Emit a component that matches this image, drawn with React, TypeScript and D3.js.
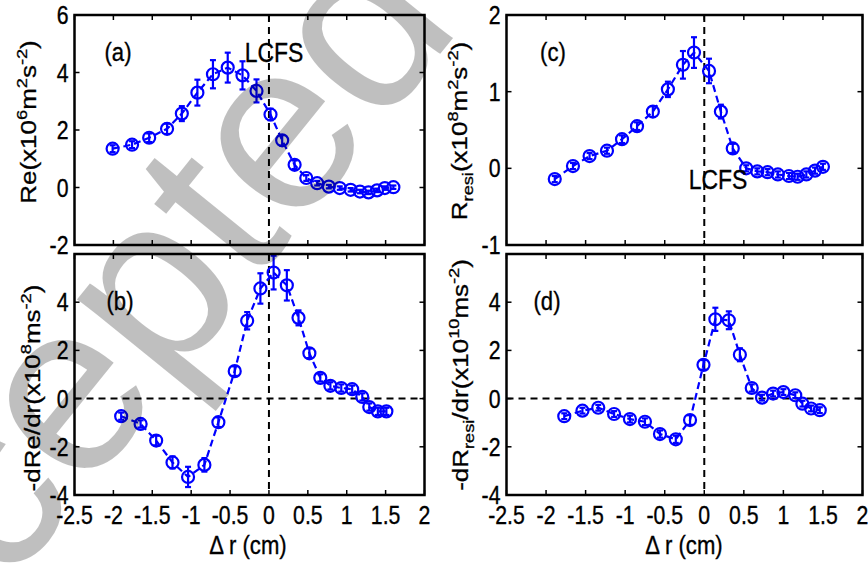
import React from "react";
import * as d3 from "d3";

// ---------- data ----------
const reX = [-2.01, -1.76, -1.54, -1.31, -1.12, -0.92, -0.72, -0.53, -0.34, -0.16, 0.02, 0.17, 0.33, 0.48, 0.62, 0.77, 0.91, 1.05, 1.17, 1.28, 1.39, 1.49, 1.6];
const reY = [1.35, 1.49, 1.73, 2.04, 2.57, 3.3, 3.94, 4.17, 3.9, 3.36, 2.54, 1.64, 0.79, 0.33, 0.15, 0.03, -0.02, -0.08, -0.14, -0.17, -0.1, -0.02, 0.01];
const reErr = [0.12, 0.12, 0.15, 0.18, 0.26, 0.45, 0.49, 0.52, 0.49, 0.4, 0.2, 0.18, 0.15, 0.1, 0.08, 0.06, 0.06, 0.06, 0.06, 0.06, 0.06, 0.06, 0.06];

const dReX = [-1.9, -1.65, -1.45, -1.24, -1.04, -0.83, -0.65, -0.44, -0.28, -0.11, 0.06, 0.23, 0.38, 0.52, 0.66, 0.79, 0.93, 1.07, 1.2, 1.29, 1.4, 1.51];
const dReY = [-0.73, -1.05, -1.74, -2.65, -3.25, -2.75, -0.98, 1.14, 3.23, 4.57, 5.23, 4.7, 3.35, 1.88, 0.86, 0.53, 0.44, 0.39, 0.07, -0.35, -0.53, -0.53];
const dReErr = [0.15, 0.15, 0.2, 0.25, 0.42, 0.28, 0.2, 0.2, 0.36, 0.63, 0.7, 0.63, 0.31, 0.2, 0.15, 0.15, 0.15, 0.15, 0.15, 0.15, 0.15, 0.15];

const rresiX = [-1.89, -1.66, -1.45, -1.23, -1.04, -0.85, -0.65, -0.46, -0.27, -0.13, 0.06, 0.21, 0.36, 0.53, 0.67, 0.8, 0.93, 1.07, 1.18, 1.29, 1.4, 1.5];
const rresiY = [-0.14, 0.03, 0.16, 0.23, 0.38, 0.55, 0.74, 1.03, 1.35, 1.51, 1.27, 0.74, 0.26, 0.0, -0.04, -0.05, -0.08, -0.1, -0.11, -0.08, -0.03, 0.02];
const rresiErr = [0.04, 0.04, 0.04, 0.04, 0.05, 0.05, 0.07, 0.1, 0.18, 0.2, 0.16, 0.09, 0.06, 0.04, 0.04, 0.04, 0.04, 0.04, 0.04, 0.04, 0.04, 0.04];

const dRresiX = [-1.77, -1.54, -1.34, -1.14, -0.94, -0.75, -0.56, -0.36, -0.18, -0.01, 0.14, 0.31, 0.45, 0.6, 0.73, 0.87, 1.0, 1.15, 1.24, 1.35, 1.46];
const dRresiY = [-0.73, -0.5, -0.38, -0.64, -0.85, -0.96, -1.47, -1.69, -0.89, 1.4, 3.29, 3.25, 1.82, 0.44, 0.04, 0.21, 0.27, 0.14, -0.21, -0.41, -0.48];
const dRresiErr = [0.12, 0.12, 0.12, 0.12, 0.14, 0.14, 0.15, 0.15, 0.2, 0.2, 0.48, 0.37, 0.27, 0.15, 0.12, 0.12, 0.12, 0.12, 0.12, 0.12, 0.12];

const xTicks = [-2.5, -2, -1.5, -1, -0.5, 0, 0.5, 1, 1.5, 2];
const xTickLabels = ["-2.5", "-2", "-1.5", "-1", "-0.5", "0", "0.5", "1", "1.5", "2"];
const yTicksA = [-2, 0, 2, 4, 6];
const yTicksB = [-4, -2, 0, 2, 4, 6];
const yLabelsB = ["-4", "-2", "0", "2", "4", ""];
const yTicksC = [-1, 0, 1, 2];

// ---------- layout ----------
const W = 868;
const H = 563;
const SX = 0.85;
const FONT = "'Liberation Sans', Arial, sans-serif";
const BLUE = "#0000ff";
const TS = 0.35; // faux-bold stroke for text

type Seg = { t: string; sup?: boolean; sub?: boolean };

function Rich({ segs, F }: { segs: Seg[]; F: number }) {
  let cur = 0;
  return (
    <>
      {segs.map((s, i) => {
        const target = s.sup ? -0.42 * F : s.sub ? 0.28 * F : 0;
        const dy = target - cur;
        cur = target;
        return (
          <tspan key={i} dy={dy} fontSize={s.sup || s.sub ? 0.7 * F : F}>
            {s.t}
          </tspan>
        );
      })}
    </>
  );
}

type PanelProps = {
  x0: number; x1: number; y0: number; y1: number;
  yDomain: [number, number];
  yTicks: number[];
  yLabels: string[];
  showX: boolean;
  hZero: boolean;
  xs: number[]; ys: number[]; errs: number[];
};

function Panel(p: PanelProps) {
  const x = d3.scaleLinear().domain([-2.5, 2]).range([p.x0, p.x1]);
  const y = d3.scaleLinear().domain(p.yDomain).range([p.y1, p.y0]);
  const pts = p.xs.map((v, i) => [v, p.ys[i]] as [number, number]);
  const line = d3.line<[number, number]>().x((d) => x(d[0])).y((d) => y(d[1]));
  const TL = 5;
  return (
    <g>
      <line x1={x(0)} x2={x(0)} y1={p.y0} y2={p.y1} stroke="#000" strokeWidth={2} strokeDasharray="7,5" />
      {p.hZero && (
        <line x1={p.x0} x2={p.x1} y1={y(0)} y2={y(0)} stroke="#000" strokeWidth={2} strokeDasharray="7,5" />
      )}
      <path d={line(pts) || ""} fill="none" stroke={BLUE} strokeWidth={2.2} strokeDasharray="7,4" />
      {pts.map((d, i) => {
        const cx = x(d[0]);
        const top = y(d[1] + p.errs[i]);
        const bot = y(d[1] - p.errs[i]);
        return (
          <g key={i} stroke={BLUE} strokeWidth={2.2} fill="none">
            <line x1={cx} x2={cx} y1={top} y2={bot} />
            <line x1={cx - 3} x2={cx + 3} y1={top} y2={top} />
            <line x1={cx - 3} x2={cx + 3} y1={bot} y2={bot} />
            <circle cx={cx} cy={y(d[1])} r={6} />
          </g>
        );
      })}
      {xTicks.map((t, i) => (
        <g key={"xt" + i} stroke="#000" strokeWidth={1.5}>
          <line x1={x(t)} x2={x(t)} y1={p.y1} y2={p.y1 - TL} />
          <line x1={x(t)} x2={x(t)} y1={p.y0} y2={p.y0 + TL} />
        </g>
      ))}
      {p.yTicks.map((t, i) => (
        <g key={"yt" + i} stroke="#000" strokeWidth={1.5}>
          <line x1={p.x0} x2={p.x0 + TL} y1={y(t)} y2={y(t)} />
          <line x1={p.x1} x2={p.x1 - TL} y1={y(t)} y2={y(t)} />
        </g>
      ))}
      <rect x={p.x0} y={p.y0} width={p.x1 - p.x0} height={p.y1 - p.y0} fill="none" stroke="#000" strokeWidth={2.5} />
      {p.yTicks.map((t, i) => (
        <text key={"yl" + i} transform={`translate(${p.x0 - 6},${y(t) + 9}) scale(${SX},1)`} textAnchor="end" fontSize={25} fontFamily={FONT} stroke="#000" strokeWidth={TS}>
          {p.yLabels[i]}
        </text>
      ))}
      {p.showX &&
        xTicks.map((t, i) => (
          <text key={"xl" + i} transform={`translate(${x(t)},${p.y1 + 29}) scale(${SX},1)`} textAnchor="middle" fontSize={25} fontFamily={FONT} stroke="#000" strokeWidth={TS}>
            {xTickLabels[i]}
          </text>
        ))}
    </g>
  );
}

function HText({ x, y, s, F = 25 }: { x: number; y: number; s: string; F?: number }) {
  return (
    <text transform={`translate(${x},${y}) scale(${SX},1)`} fontSize={F} fontFamily={FONT} textAnchor="middle" stroke="#000" strokeWidth={TS}>
      {s}
    </text>
  );
}

function YLabel({ x, y, segs, F = 26 }: { x: number; y: number; segs: Seg[]; F?: number }) {
  return (
    <text transform={`translate(${x},${y}) scale(${SX},1) rotate(-90)`} fontSize={F} fontFamily={FONT} textAnchor="middle" stroke="#000" strokeWidth={TS}>
      <Rich segs={segs} F={F} />
    </text>
  );
}

export default function App() {
  return (
    <svg width={W} height={H} style={{ display: "block", position: "absolute", left: 0, top: 0, background: "#fff" }}>
      <rect width={W} height={H} fill="#fff" />
      <Panel x0={74.5} x1={424.5} y0={15} y1={245} yDomain={[-2, 6]} yTicks={yTicksA} yLabels={yTicksA.map(String)} showX={false} hZero={false} xs={reX} ys={reY} errs={reErr} />
      <Panel x0={74.5} x1={424.5} y0={254} y1={495} yDomain={[-4, 6]} yTicks={yTicksB} yLabels={yLabelsB} showX={true} hZero={true} xs={dReX} ys={dReY} errs={dReErr} />
      <Panel x0={506.5} x1={862.5} y0={15} y1={245} yDomain={[-1, 2]} yTicks={yTicksC} yLabels={yTicksC.map(String)} showX={false} hZero={false} xs={rresiX} ys={rresiY} errs={rresiErr} />
      <Panel x0={506.5} x1={862.5} y0={254} y1={495} yDomain={[-4, 6]} yTicks={yTicksB} yLabels={yLabelsB} showX={true} hZero={true} xs={dRresiX} ys={dRresiY} errs={dRresiErr} />

      <HText x={118} y={61} s="(a)" F={26} />
      <HText x={274} y={62} s="LCFS" F={27} />
      <HText x={553} y={61} s="(c)" F={26} />
      <HText x={718} y={189} s="LCFS" F={27} />
      <HText x={120} y={310} s="(b)" F={26} />
      <HText x={547} y={310} s="(d)" F={26} />

      <HText x={248} y={554} s="Δ r (cm)" F={26} />
      <HText x={684} y={554} s="Δ r (cm)" F={26} />

      <YLabel x={36} y={122} segs={[{ t: "Re(x10" }, { t: "6", sup: true }, { t: "m" }, { t: "2", sup: true }, { t: "s" }, { t: "-2", sup: true }, { t: ")" }]} />
      <YLabel x={40} y={388} segs={[{ t: "-dRe/dr(x10" }, { t: "8", sup: true }, { t: "ms" }, { t: "-2", sup: true }, { t: ")" }]} />
      <YLabel x={467} y={131} segs={[{ t: "R" }, { t: "resi", sub: true }, { t: "(x10" }, { t: "8", sup: true }, { t: "m" }, { t: "2", sup: true }, { t: "s" }, { t: "-2", sup: true }, { t: ")" }]} />
      <YLabel x={468} y={375} segs={[{ t: "-dR" }, { t: "resi", sub: true }, { t: "/dr(x10" }, { t: "10", sup: true }, { t: "ms" }, { t: "-2", sup: true }, { t: ")" }]} />

      {/* watermark */}
      <text transform="translate(-172,810) rotate(-51)" fontSize={242} fontFamily={FONT} fill="#000" fillOpacity={0.25}>
        Accepted
      </text>
    </svg>
  );
}
